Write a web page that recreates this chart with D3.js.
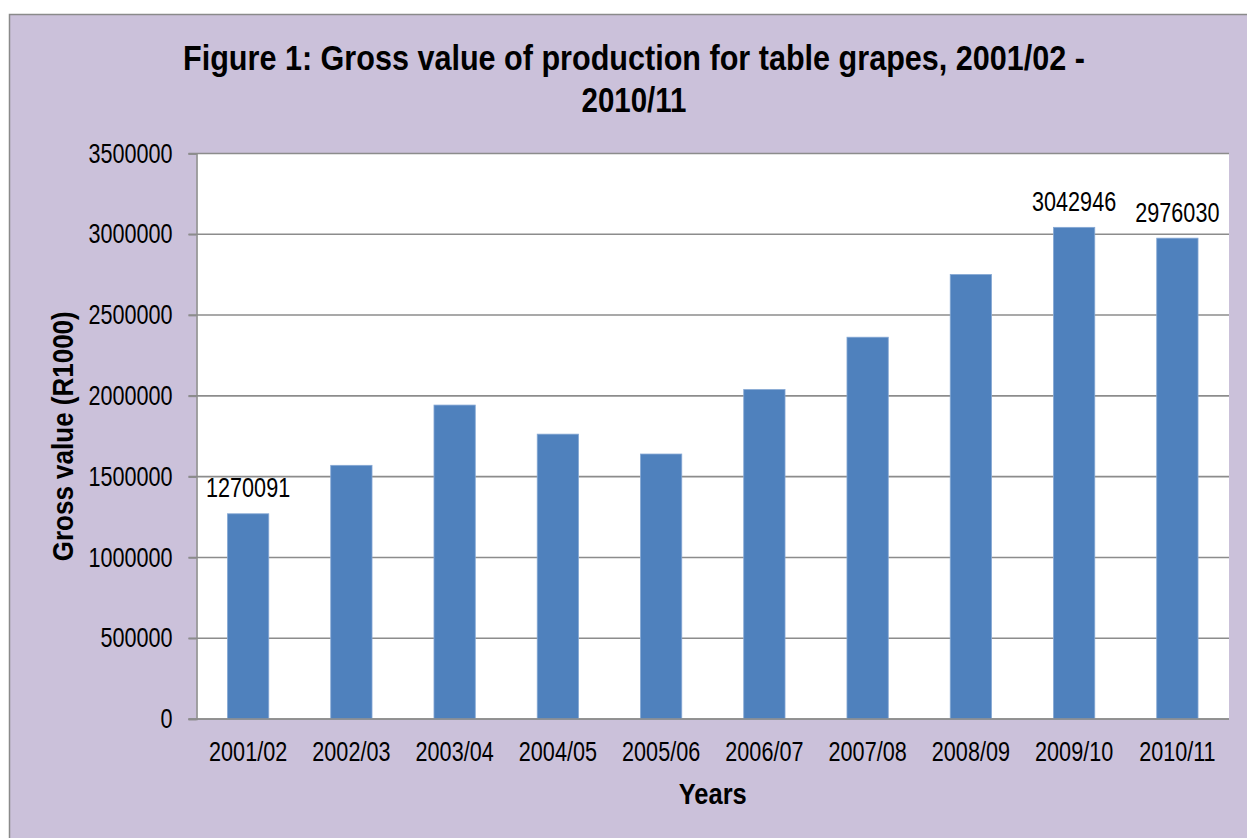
<!DOCTYPE html>
<html>
<head>
<meta charset="utf-8">
<script src="https://cdn.jsdelivr.net/npm/d3@7"></script>
<style>
  html, body { margin: 0; padding: 0; background: #ffffff; overflow: hidden; }
  text { font-family: "Liberation Sans Narrow", "Arial Narrow", "Liberation Sans", Arial, sans-serif; }
</style>
</head>
<body>
<script>
// chart data
var seasons = ["2001/02", "2002/03", "2003/04", "2004/05", "2005/06",
               "2006/07", "2007/08", "2008/09", "2009/10", "2010/11"];
var grossValues = [1270091, 1570000, 1943000, 1763000, 1640000,
                   2039000, 2363000, 2751000, 3042946, 2976030];
var labelledSeasons = ["2001/02", "2009/10", "2010/11"];
var yTicks = [0, 500000, 1000000, 1500000, 2000000, 2500000, 3000000, 3500000];

var titleLines = ["Figure 1: Gross value of production for table grapes, 2001/02 -", "2010/11"];

var data = seasons.map(function(s, i) { return {season: s, value: grossValues[i]}; });

var width = 1247, height = 838;
var plot = {left: 196.5, top: 153.5, right: 1229, bottom: 719};

// the reference uses a narrow font, squeeze the text to match
function narrow(sel, f) {
  sel.each(function() {
    var len = this.getComputedTextLength();
    d3.select(this)
      .attr("textLength", len * f)
      .attr("lengthAdjust", "spacingAndGlyphs");
  });
}

var svg = d3.select("body").append("svg")
  .attr("width", width)
  .attr("height", height);

// chart area background and border
svg.append("rect")
  .attr("x", 9.5).attr("y", 14.5)
  .attr("width", 1300).attr("height", 900)
  .style("fill", "#cbc1da")
  .style("stroke", "#8a8a8a")
  .style("stroke-width", 1.5);

// plot area
svg.append("rect")
  .attr("x", plot.left).attr("y", plot.top)
  .attr("width", plot.right - plot.left).attr("height", plot.bottom - plot.top)
  .style("fill", "#ffffff");

// scales
var xScale = d3.scaleBand()
  .domain(seasons)
  .range([plot.left, plot.right])
  .paddingInner(0.6)
  .paddingOuter(0.3);

var yScale = d3.scaleLinear()
  .domain([0, 3500000])
  .range([plot.bottom, plot.top]);

// gridlines
svg.append("g")
  .selectAll("line")
  .data(yTicks)
  .enter()
  .append("line")
  .attr("x1", plot.left - 8)
  .attr("x2", plot.right)
  .attr("y1", function(d) { return yScale(d); })
  .attr("y2", function(d) { return yScale(d); })
  .style("stroke", "#8c8c8c")
  .style("stroke-width", 1.6);

// y axis
var yAxis = svg.append("g")
  .attr("transform", "translate(" + plot.left + ",0)")
  .call(d3.axisLeft(yScale).tickValues(yTicks).tickSize(8).tickPadding(16)
        .tickFormat(d3.format("d")));
yAxis.select(".domain").style("stroke", "#8c8c8c").style("stroke-width", 1.6);
yAxis.selectAll(".tick line").style("stroke", "#8c8c8c").style("stroke-width", 1.6);
yAxis.selectAll(".tick text")
  .style("font-size", "27px")
  .style("fill", "#000000")
  .attr("font-family", null)
  .call(narrow, 0.8);

// bars
svg.append("g")
  .selectAll("rect")
  .data(data)
  .enter()
  .append("rect")
  .attr("x", function(d) { return xScale(d.season); })
  .attr("y", function(d) { return yScale(d.value); })
  .attr("width", xScale.bandwidth())
  .attr("height", function(d) { return plot.bottom - yScale(d.value); })
  .style("fill", "#4f81bd")
  .style("stroke", "#86a8d4")
  .style("stroke-width", 0.8);

// x axis
var xAxis = svg.append("g")
  .attr("transform", "translate(0," + plot.bottom + ")")
  .call(d3.axisBottom(xScale).tickSize(0).tickPadding(23));
xAxis.select(".domain")
  .attr("d", "M" + (plot.left - 8) + ",0H" + plot.right)
  .style("stroke", "#8c8c8c").style("stroke-width", 1.6);
xAxis.selectAll(".tick text")
  .style("font-size", "27px")
  .style("fill", "#000000")
  .attr("font-family", null)
  .call(narrow, 0.8);

// data labels on some bars
svg.append("g")
  .selectAll("text")
  .data(data.filter(function(d) { return labelledSeasons.indexOf(d.season) >= 0; }))
  .enter()
  .append("text")
  .attr("x", function(d) { return xScale(d.season) + xScale.bandwidth() / 2; })
  .attr("y", function(d) { return yScale(d.value) - 16.5; })
  .attr("text-anchor", "middle")
  .style("font-size", "27px")
  .text(function(d) { return d.value; })
  .call(narrow, 0.8);

// title
var titleWidths = [902, 105];
svg.append("g")
  .selectAll("text")
  .data(titleLines)
  .enter()
  .append("text")
  .attr("x", 634)
  .attr("y", function(d, i) { return 69.5 + i * 42.2; })
  .attr("text-anchor", "middle")
  .attr("textLength", function(d, i) { return titleWidths[i]; })
  .attr("lengthAdjust", "spacingAndGlyphs")
  .style("font-size", "35px")
  .style("font-weight", "bold")
  .text(function(d) { return d; });

// axis titles
svg.append("text")
  .attr("transform", "translate(73," + ((plot.top + plot.bottom) / 2) + ")rotate(-90)")
  .attr("text-anchor", "middle")
  .attr("textLength", 250)
  .attr("lengthAdjust", "spacingAndGlyphs")
  .style("font-size", "30px")
  .style("font-weight", "bold")
  .text("Gross value (R1000)");

svg.append("text")
  .attr("x", (plot.left + plot.right) / 2)
  .attr("y", 804)
  .attr("text-anchor", "middle")
  .attr("textLength", 68)
  .attr("lengthAdjust", "spacingAndGlyphs")
  .style("font-size", "30px")
  .style("font-weight", "bold")
  .text("Years");
</script>
</body>
</html>
